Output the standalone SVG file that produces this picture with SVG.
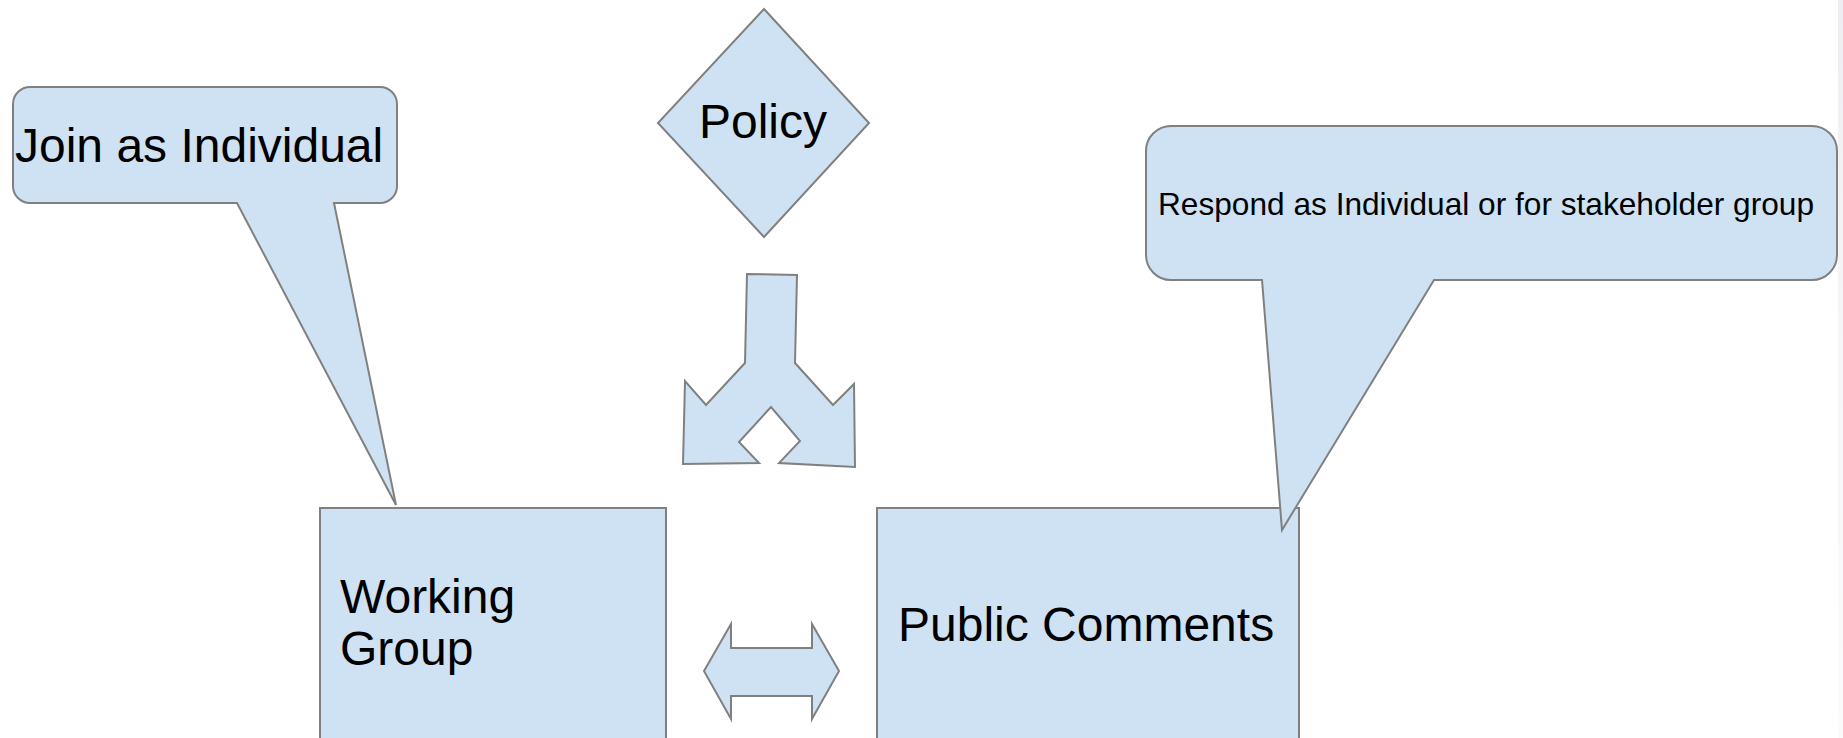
<svg xmlns="http://www.w3.org/2000/svg" width="1843" height="738" viewBox="0 0 1843 738">
  <style>
    .shape { fill: #cfe2f3; stroke: #808080; stroke-width: 2; stroke-linejoin: miter; }
    .big { font-family: "Liberation Sans", Arial, sans-serif; font-size: 48px; fill: #000000; }
    .small { font-family: "Liberation Sans", Arial, sans-serif; font-size: 32px; fill: #000000; }
  </style>
  <defs>
    <linearGradient id="edge" x1="0" y1="0" x2="0" y2="1">
      <stop offset="0" stop-color="#eeeef2" stop-opacity="1"/>
      <stop offset="0.45" stop-color="#f3f3f6" stop-opacity="0.8"/>
      <stop offset="1" stop-color="#f6f6f8" stop-opacity="0.5"/>
    </linearGradient>
  </defs>
  <rect x="0" y="0" width="1843" height="738" fill="#ffffff"/>
  <rect x="1838" y="0" width="5" height="738" fill="url(#edge)"/>

  <g id="policy">
    <polygon class="shape" points="764,9 869,123 764,237 658,123"/>
    <text class="big" x="763" y="138" text-anchor="middle">Policy</text>
  </g>

  <g id="join-callout">
    <path class="shape" d="M 30 87 H 380 A 17 17 0 0 1 397 104 V 186 A 17 17 0 0 1 380 203 H 334 L 396 505 L 237 203 H 30 A 17 17 0 0 1 13 186 V 104 A 17 17 0 0 1 30 87 Z"/>
    <text class="big" x="15" y="162">Join as Individual</text>
  </g>

  <g id="working-group">
    <rect class="shape" x="320" y="508" width="346" height="245"/>
    <text class="big" x="340" y="613">Working</text>
    <text class="big" x="340" y="665">Group</text>
  </g>

  <g id="public-comments">
    <rect class="shape" x="877" y="508" width="422" height="245"/>
    <text class="big" x="898" y="641">Public Comments</text>
  </g>

  <g id="respond-callout">
    <path class="shape" d="M 1171 126 H 1812 A 25 25 0 0 1 1837 151 V 255 A 25 25 0 0 1 1812 280 H 1434 L 1282 530 L 1262 280 H 1171 A 25 25 0 0 1 1146 255 V 151 A 25 25 0 0 1 1171 126 Z"/>
    <text class="small" x="1158" y="215" textLength="656" lengthAdjust="spacingAndGlyphs">Respond as Individual or for stakeholder group</text>
  </g>

  <g id="connectors">
    <polygon class="shape" points="747,274 797,275 795,363 833,405 854,384 855,467 779,463 800,441 771,407 739,442 759,463 683,464 685,381 706,405 745,363"/>
    <polygon class="shape" points="704,671 731,624 731,648 812,648 812,624 839,671 812,719 812,696 731,696 731,719"/>
  </g>
</svg>
